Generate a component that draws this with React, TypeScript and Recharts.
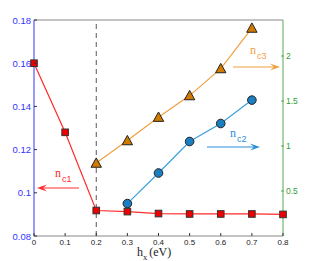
import React from "react";
import {
  ComposedChart,
  Line,
  XAxis,
  YAxis,
  ReferenceLine,
} from "recharts";

// h_x values (eV)
const hx = [0, 0.1, 0.2, 0.3, 0.4, 0.5, 0.6, 0.7, 0.8];
// left axis series
const nc1 = [0.16, 0.128, 0.0918, 0.0913, 0.0904, 0.0902, 0.0902, 0.0902, 0.09];
// right axis series
const nc2 = [null, null, null, 0.36, 0.7, 1.05, 1.25, 1.51, null];
const nc3 = [null, null, 0.81, 1.06, 1.32, 1.56, 1.86, 2.31, null];

const xTicks = [0, 0.1, 0.2, 0.3, 0.4, 0.5, 0.6, 0.7, 0.8];
const leftTicks = [0.08, 0.1, 0.12, 0.14, 0.16, 0.18];
const rightTicks = [0.5, 1, 1.5, 2];

const data = hx.map((h, i) => ({ hx: h, nc1: nc1[i], nc2: nc2[i], nc3: nc3[i] }));

const W = 314;
const H = 261;

const LeftTick = (props: any) => {
  const { x, y, payload } = props;
  return (
    <g>
      <line x1={x + 3} x2={x + 6} y1={y} y2={y} stroke="#333" strokeWidth={1} />
      <text x={x} y={y} dy={3.5} textAnchor="end" fill="#3333ff" fontSize={9.5} fontFamily="Liberation Sans, Arial, sans-serif">
        {payload.value}
      </text>
    </g>
  );
};

const RightTick = (props: any) => {
  const { x, y, payload } = props;
  return (
    <g>
      <line x1={x - 5} x2={x - 2} y1={y} y2={y} stroke="#55aa55" strokeWidth={1} />
      <text x={x} y={y} dy={3} textAnchor="start" fill="#33a033" fontSize={8.5} fontFamily="Liberation Sans, Arial, sans-serif">
        {payload.value}
      </text>
    </g>
  );
};

const BottomTick = (props: any) => {
  const { x, y, payload } = props;
  return (
    <g>
      <line x1={x} x2={x} y1={y - 3} y2={y - 6} stroke="#333" strokeWidth={1} />
      <text x={x} y={y} dy={6} textAnchor="middle" fill="#222" fontSize={8} fontFamily="Liberation Sans, Arial, sans-serif">
        {payload.value}
      </text>
    </g>
  );
};

const Square = (props: any) => {
  const { cx, cy, index } = props;
  if (cx == null || cy == null) return <g key={index} />;
  return <rect key={index} x={cx - 3.3} y={cy - 3.3} width={6.6} height={6.6} fill="#ee0000" stroke="#333" strokeWidth={1} />;
};

const Circle = (props: any) => {
  const { cx, cy, index, value } = props;
  if (cx == null || cy == null || value == null) return <g key={index} />;
  return <circle key={index} cx={cx} cy={cy} r={4.3} fill="#1a7ec0" stroke="#222" strokeWidth={1} />;
};

const Triangle = (props: any) => {
  const { cx, cy, index, value } = props;
  if (cx == null || cy == null || value == null) return <g key={index} />;
  const s = 5.2;
  const pts = `${cx},${cy - s} ${cx - s},${cy + s * 0.8} ${cx + s},${cy + s * 0.8}`;
  return <polygon key={index} points={pts} fill="#d07a00" stroke="#222" strokeWidth={1} />;
};

function Arrow({ x1, x2, y, color }: { x1: number; x2: number; y: number; color: string }) {
  const dir = x2 > x1 ? 1 : -1;
  return (
    <g>
      <line x1={x1} x2={x2 - dir * 6} y1={y} y2={y} stroke={color} strokeWidth={1} />
      <polygon
        points={`${x2},${y} ${x2 - dir * 10},${y - 3.5} ${x2 - dir * 6},${y} ${x2 - dir * 10},${y + 3.5}`}
        fill={color}
      />
    </g>
  );
}

function Label({ x, y, sub, color }: { x: number; y: number; sub: string; color: string }) {
  return (
    <text x={x} y={y} fill={color} fontFamily="Liberation Serif, Times New Roman, serif" fontSize={12}>
      n
      <tspan dy={5} dx={1} fontSize={9} fontFamily="Liberation Sans, Arial, sans-serif">
        {sub}
      </tspan>
    </text>
  );
}

export default function App() {
  return (
    <div style={{ position: "fixed", left: 0, top: 0, width: W, height: H, background: "#fff" }}>
      <ComposedChart width={W} height={H} data={data} margin={{ top: 20, right: 0, bottom: 0, left: 0 }}>
        <XAxis
          dataKey="hx"
          type="number"
          domain={[0, 0.8]}
          ticks={xTicks}
          height={25}
          axisLine={{ stroke: "#888" }}
          tickLine={false}
          tickSize={0}
          tickMargin={3}
          tick={<BottomTick />}
        />
        <YAxis
          yAxisId="left"
          domain={[0.08, 0.18]}
          ticks={leftTicks}
          width={34}
          axisLine={{ stroke: "#3333ff" }}
          tickLine={false}
          tickSize={0}
          tickMargin={3}
          tick={<LeftTick />}
        />
        <YAxis
          yAxisId="right"
          orientation="right"
          domain={[0, 2.4]}
          ticks={rightTicks}
          width={31}
          axisLine={{ stroke: "#55aa55" }}
          tickLine={false}
          tickSize={0}
          tickMargin={3}
          tick={<RightTick />}
        />
        <ReferenceLine yAxisId="left" y={0.18} stroke="#888" strokeWidth={1} />
        <ReferenceLine yAxisId="left" x={0.2} stroke="#555" strokeDasharray="5 4" strokeWidth={1} />
        <Line
          yAxisId="right"
          dataKey="nc3"
          stroke="#f0a040"
          strokeWidth={1.2}
          dot={<Triangle />}
          isAnimationActive={false}
        />
        <Line
          yAxisId="right"
          dataKey="nc2"
          stroke="#3aa0e0"
          strokeWidth={1.2}
          dot={<Circle />}
          isAnimationActive={false}
        />
        <Line
          yAxisId="left"
          dataKey="nc1"
          stroke="#ff2a2a"
          strokeWidth={1.2}
          dot={<Square />}
          isAnimationActive={false}
        />
      </ComposedChart>
      <svg width={W} height={H} style={{ position: "absolute", left: 0, top: 0, pointerEvents: "none" }}>
        <Label x={55} y={177} sub="c1" color="#ff2a2a" />
        <Arrow x1={79} x2={37} y={188} color="#ff2a2a" />
        <Label x={230} y={137} sub="c2" color="#2a8ed8" />
        <Arrow x1={207} x2={260} y={147} color="#2a8ed8" />
        <Label x={250} y={54} sub="c3" color="#f0a040" />
        <Arrow x1={233} x2={280} y={67} color="#f0a040" />
        <text x={137} y={256} fill="#222" fontFamily="Liberation Serif, Times New Roman, serif" fontSize={12}>
          h
          <tspan dy={3.5} fontSize={8.5}>x</tspan>
          <tspan dy={-3.5} dx={2}>(eV)</tspan>
        </text>
      </svg>
    </div>
  );
}
